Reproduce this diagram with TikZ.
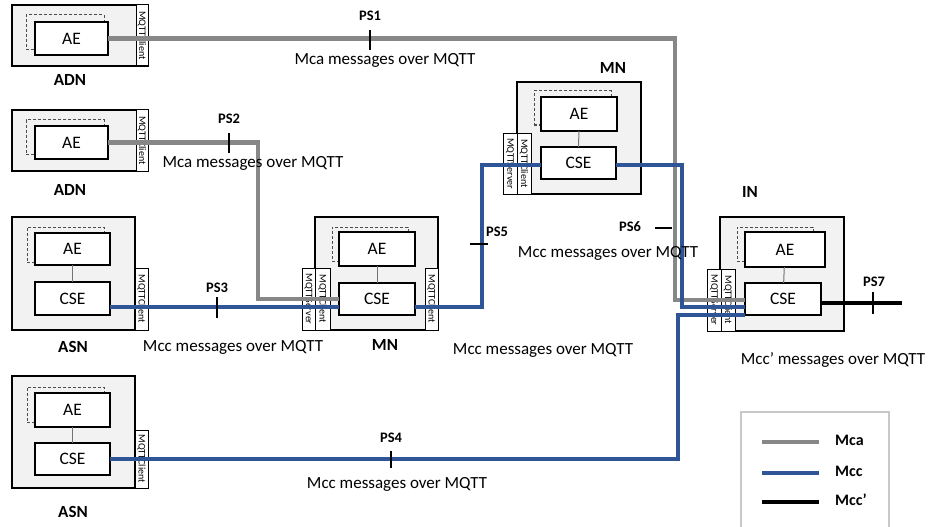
\documentclass[tikz,border=0pt]{standalone}
\usepackage{fontspec}
\setmainfont{Carlito}
\definecolor{mcagray}{HTML}{878787}
\definecolor{mccblue}{HTML}{2F5597}
\definecolor{boxfill}{HTML}{F2F2F2}
\definecolor{leggray}{HTML}{C8C8C8}
\newcommand{\rbox}[7]{\node[#1, minimum width={(#5-#3)*1pt}, minimum height={(#6-#4)*1pt}] (#2) at ({(#3+#5)/2},{(#4+#6)/2}) {#7};}
\newcommand{\stripfont}{\fontsize{10}{10}\selectfont}
\newcommand{\vtext}[1]{\rotatebox{-90}{\stripfont #1}}
\tikzset{
  outerbox/.style={draw=black, line width=1.6pt, fill=boxfill, inner sep=0pt, outer sep=0pt},
  innerbox/.style={draw=black, line width=1.1pt, fill=white, inner sep=0pt, outer sep=0pt, font=\fontsize{17.5}{17.5}\selectfont},
  dashbox/.style={draw=black!70, dashed, dash pattern=on 3pt off 2pt, line width=1pt, inner sep=0pt, outer sep=0pt},
  stripbox/.style={draw=black, line width=1pt, fill=white, inner sep=0pt, outer sep=0pt},
  devlabel/.style={font=\bfseries\fontsize{17}{17}\selectfont, inner sep=0pt},
  msg/.style={font=\fontsize{17}{17}\selectfont, inner sep=0pt},
  pslabel/.style={font=\bfseries\fontsize{14.5}{14.5}\selectfont, inner sep=0pt},
  leglabel/.style={font=\bfseries\fontsize{16}{16}\selectfont, inner sep=0pt, anchor=west},
  aelink/.style={draw=black!55, line width=1pt},
  mcaline/.style={draw=mcagray, line width=4.2pt},
  mccline/.style={draw=mccblue, line width=3.6pt},
  mccpline/.style={draw=black, line width=4pt},
  psmark/.style={draw=black, line width=1.4pt},
}
\begin{document}
\begin{tikzpicture}[x=1pt, y=-1pt]
\useasboundingbox (0,0) rectangle (930,527);

% ---------- ADN 1 ----------
\rbox{outerbox}{adn1}{12}{5}{148}{66}{}
\rbox{stripbox}{adn1s}{136}{5}{148}{66}{\vtext{MQTTClient}}
\rbox{dashbox}{adn1d}{26}{15}{104}{50}{}
\rbox{innerbox}{adn1ae}{35}{22}{108}{55}{AE}
\node[devlabel] (adn1l) at (70,80) {ADN};

% ---------- ADN 2 ----------
\rbox{outerbox}{adn2}{12}{110}{148}{171}{}
\rbox{stripbox}{adn2s}{136}{110}{148}{171}{\vtext{MQTTClient}}
\rbox{dashbox}{adn2d}{26}{120}{104}{154}{}
\rbox{innerbox}{adn2ae}{35}{126}{108}{159}{AE}
\node[devlabel] (adn2l) at (70,190) {ADN};

% ---------- ASN 1 ----------
\rbox{outerbox}{asn1}{12}{217}{135}{330}{}
\rbox{stripbox}{asn1s}{135}{268}{148}{330}{\vtext{MQTTClient}}
\rbox{dashbox}{asn1d}{27}{227}{104}{262}{}
\rbox{innerbox}{asn1ae}{35}{233}{110}{265}{AE}
\rbox{innerbox}{asn1cse}{35}{282}{110}{315}{CSE}
\draw[aelink] (asn1ae) -- (asn1cse);
\node[devlabel] (asn1l) at (73,347) {ASN};

% ---------- ASN 2 ----------
\rbox{outerbox}{asn2}{12}{376}{135}{488}{}
\rbox{stripbox}{asn2s}{135}{430}{148}{488}{\vtext{MQTTClient}}
\rbox{dashbox}{asn2d}{27}{387}{104}{422}{}
\rbox{innerbox}{asn2ae}{35}{393}{110}{427}{AE}
\rbox{innerbox}{asn2cse}{35}{443}{110}{475}{CSE}
\draw[aelink] (asn2ae) -- (asn2cse);
\node[devlabel] (asn2l) at (73,512) {ASN};

% ---------- MN 1 ----------
\rbox{outerbox}{mn1}{315}{217}{438}{330}{}
\rbox{stripbox}{mn1ss}{302}{268}{315}{330}{\vtext{MQTTServer}}
\rbox{stripbox}{mn1sc}{315}{268}{330}{330}{\vtext{MQTTClient}}
\rbox{stripbox}{mn1sr}{425}{268}{438}{330}{\vtext{MQTTClient}}
\rbox{dashbox}{mn1d}{332}{227}{408}{261}{}
\rbox{innerbox}{mn1ae}{339}{232}{415}{266}{AE}
\rbox{innerbox}{mn1cse}{339}{283}{415}{315}{CSE}
\draw[aelink] (mn1ae) -- (mn1cse);
\node[devlabel] (mn1l) at (385,345) {MN};

% ---------- MN 2 ----------
\rbox{outerbox}{mn2}{517}{82}{641}{194}{}
\rbox{stripbox}{mn2ss}{503}{133}{517}{194}{\vtext{MQTTServer}}
\rbox{stripbox}{mn2sc}{517}{133}{531}{194}{\vtext{MQTTClient}}
\rbox{dashbox}{mn2d}{534}{91}{611}{125}{}
\rbox{innerbox}{mn2ae}{541}{97}{617}{131}{AE}
\rbox{innerbox}{mn2cse}{541}{147}{616}{179}{CSE}
\draw[aelink] (mn2ae) -- (mn2cse);
\node[devlabel] (mn2l) at (613,68) {MN};

% ---------- IN ----------
\rbox{outerbox}{in}{720}{217}{844}{331}{}
\rbox{stripbox}{inss}{707}{269}{721}{331}{\vtext{MQTTServer}}
\rbox{stripbox}{insc}{721}{269}{735}{331}{\vtext{MQTTClient}}
\rbox{dashbox}{ind}{737}{227}{813}{261}{}
\rbox{innerbox}{inae}{745}{232}{825}{267}{AE}
\rbox{innerbox}{incse}{745}{283}{821}{315}{CSE}
\draw[aelink] (inae) -- (incse);
\node[devlabel] (inl) at (750,192) {IN};

% ---------- bend points ----------
\coordinate (b1) at (675,300);
\coordinate (b2) at (258,299);
\coordinate (l3) at (0,307);
\coordinate (b5) at (482,165);
\coordinate (b6) at (682,307);
\coordinate (b7) at (678,315);
\coordinate (e7) at (902,303);

% ---------- connectors ----------
\draw[mcaline] (adn1ae.east) -| (b1) -- (b1 -| incse.west);
\draw[mcaline] (adn2ae.east) -| (b2) -- (b2 -| mn1cse.west);
\draw[mccline] (asn1cse.east |- l3) -- (mn1cse.west |- l3);
\draw[mccline] (mn1cse.east |- l3) -| (b5) -- (b5 -| mn2cse.west);
\draw[mccline] (mn2cse.east |- b5) -| (b6) -- (b6 -| incse.west);
\draw[mccline] (asn2cse.east) -| (b7) -- (b7 -| incse.west);
\draw[mccpline] (incse.east |- e7) -- (e7);

% ---------- PS marks ----------
\draw[psmark] (370,30) -- (370,50);
\draw[psmark] (229,133) -- (229,153);
\draw[psmark] (217,297) -- (217,318);
\draw[psmark, line width=2.2pt] (391,451) -- (391,468);
\draw[psmark] (470,244) -- (488,244);
\draw[psmark, line width=1.8pt] (655,228) -- (672,228);
\draw[psmark, line width=2.6pt] (873,292) -- (873,314);

\node[pslabel] (ps1) at (370,16) {PS1};
\node[pslabel] (ps2) at (229,119) {PS2};
\node[pslabel] (ps3) at (217,288) {PS3};
\node[pslabel] (ps4) at (391,438) {PS4};
\node[pslabel] (ps5) at (497,232) {PS5};
\node[pslabel] (ps6) at (630,227) {PS6};
\node[pslabel] (ps7) at (874,282) {PS7};

% ---------- message labels ----------
\node[msg] (m1) at (385,60) {Mca messages over MQTT};
\node[msg] (m2) at (253,163) {Mca messages over MQTT};
\node[msg] (m3) at (233,347) {Mcc messages over MQTT};
\node[msg] (m4) at (397,484) {Mcc messages over MQTT};
\node[msg] (m5) at (608,253) {Mcc messages over MQTT};
\node[msg] (m6) at (543,350) {Mcc messages over MQTT};
\node[msg] (m7) at (833,360) {Mcc’ messages over MQTT};

% ---------- legend ----------
\node[draw=leggray, line width=1.5pt, minimum width=148pt, minimum height=140pt, inner sep=0pt, outer sep=0pt] (legend) at (815,482) {};
\coordinate (lg1a) at (762,442); \coordinate (lg1b) at (819,442);
\coordinate (lg2a) at (762,473); \coordinate (lg2b) at (819,473);
\coordinate (lg3a) at (762,502); \coordinate (lg3b) at (819,502);
\draw[mcaline, line width=3.4pt] (lg1a) -- (lg1b);
\draw[mccline, line width=3.4pt] (lg2a) -- (lg2b);
\draw[mccpline, line width=3.4pt] (lg3a) -- (lg3b);
\node[leglabel] (lgt1) at (835,440) {Mca};
\node[leglabel] (lgt2) at (835,471) {Mcc};
\node[leglabel] (lgt3) at (835,500) {Mcc’};
\end{tikzpicture}
\end{document}
